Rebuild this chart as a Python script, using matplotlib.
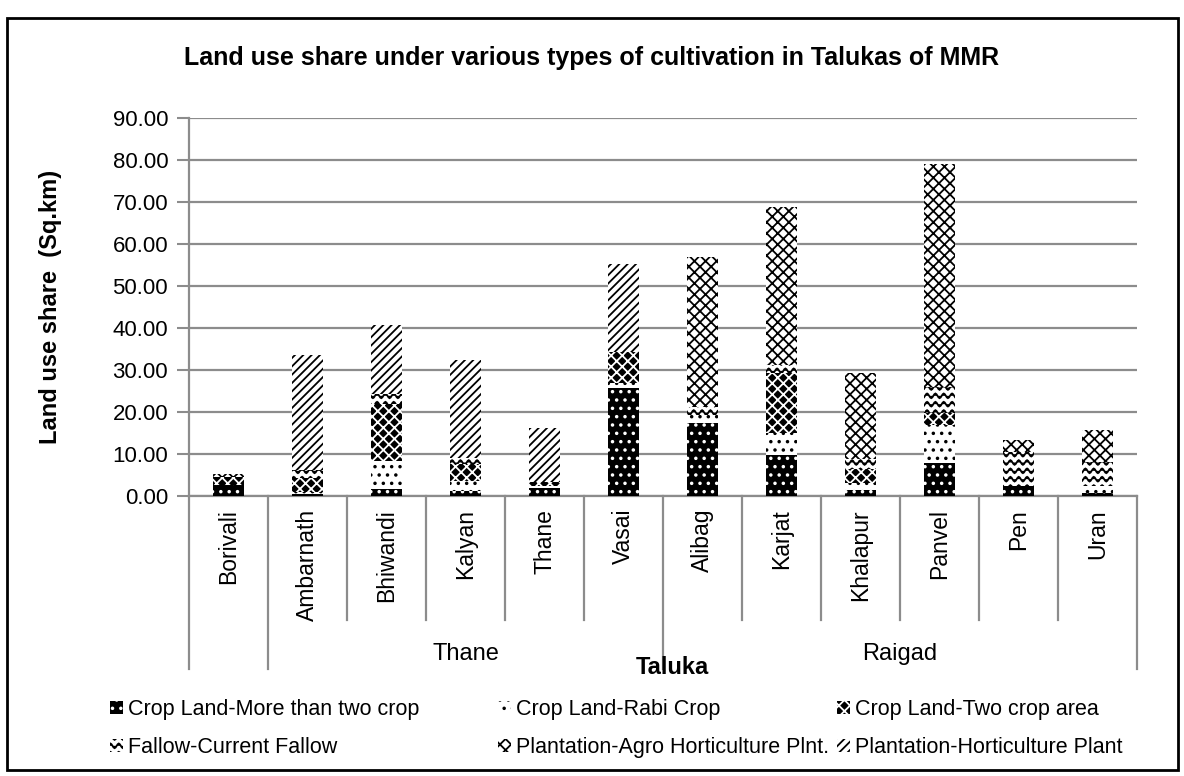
import matplotlib
matplotlib.use('Agg')
import warnings
import numpy as np
from matplotlib import pyplot as plt, font_manager
from matplotlib import hatch as mhatch
from matplotlib.path import Path
from matplotlib.patches import Rectangle, Patch
from matplotlib.transforms import blended_transform_factory

warnings.filterwarnings('ignore')

# 数据 (Sq.km)
talukas = ['Borivali', 'Ambarnath', 'Bhiwandi', 'Kalyan', 'Thane', 'Vasai',
           'Alibag', 'Karjat', 'Khalapur', 'Panvel', 'Pen', 'Uran']
districts = ['Thane', 'Raigad']
district_first = [1, 6]
district_last = [5, 11]

more_than_two = [2.5, 0.4, 1.7, 1.2, 2.0, 25.7, 17.4, 9.8, 1.5, 7.9, 2.4, 0.8]
rabi = [0.0, 0.6, 6.7, 2.3, 0.3, 1.2, 1.9, 5.2, 1.6, 9.0, 0.0, 1.6]
two_crop = [2.1, 3.3, 13.6, 4.0, 1.0, 7.4, 0.0, 14.3, 3.4, 2.9, 0.0, 0.0]
fallow = [0.0, 2.0, 2.4, 1.5, 0.0, 0.0, 1.9, 1.9, 2.4, 6.2, 8.1, 5.7]
agro = [0.7, 0.0, 0.0, 0.0, 0.0, 0.0, 35.7, 37.6, 20.4, 53.0, 2.9, 7.6]
horti = [0.0, 27.3, 16.4, 23.4, 13.0, 20.9, 0.0, 0.0, 0.0, 0.0, 0.0, 0.0]

series = [more_than_two, rabi, two_crop, fallow, agro, horti]
labels = ['Crop Land-More than two crop', 'Crop Land-Rabi Crop', 'Crop Land-Two crop area',
          'Fallow-Current Fallow', 'Plantation-Agro Horticulture Plnt.', 'Plantation-Horticulture Plant']


# 波浪线填充 (Excel 的 wave 图案)
class WaveHatch(mhatch.HatchPatternBase):
    def __init__(self, hatch, density):
        self.num_lines = int(hatch.count('~') * density)
        self.pts = 8 * self.num_lines + 1
        self.num_vertices = self.num_lines * self.pts

    def set_vertices_and_codes(self, vertices, codes):
        t = np.linspace(0, 1, self.pts)
        for i in range(self.num_lines):
            sl = slice(i * self.pts, (i + 1) * self.pts)
            vertices[sl, 0] = t
            vertices[sl, 1] = (i + 0.5) / self.num_lines + \
                0.28 / self.num_lines * np.sin(2 * np.pi * t * self.num_lines)
            codes[sl] = Path.LINETO
            codes[i * self.pts] = Path.MOVETO


mhatch._hatch_types.append(WaveHatch)

# (face, hatch colour, hatch)
styles = [('black', 'white', '..'),
          ('white', 'black', '..'),
          ('black', 'white', 'xxx'),
          ('white', 'black', '~~'),
          ('white', 'black', 'xxx'),
          ('white', 'black', '////')]

names = {f.name for f in font_manager.fontManager.ttflist}
if 'Liberation Sans Narrow' in names:
    fam, fs = 'Liberation Sans Narrow', 18
else:
    fam, fs = 'Liberation Sans', 16
plt.rcParams['font.family'] = [fam, 'DejaVu Sans']
plt.rcParams['hatch.linewidth'] = 1.3

W, H = 1184, 776
fig = plt.figure(figsize=(W / 100, H / 100), dpi=100)
ax = fig.add_axes([189 / W, 1 - 496 / H, (1137 - 189) / W, (496 - 118) / H])

x = np.arange(len(talukas))
bottom = np.zeros(len(talukas))
handles = []
for vals, lab, (fc, hc, ht) in zip(series, labels, styles):
    ax.bar(x, vals, 0.39, bottom=bottom, color=fc, edgecolor=hc, hatch=ht, linewidth=0, zorder=3)
    bottom += np.array(vals)
    handles.append(Patch(facecolor=fc, edgecolor=hc, hatch=ht, linewidth=0, label=lab))

gray = '#8c8c8c'
ax.set_xlim(-0.5, len(talukas) - 0.5)
ax.set_ylim(0, 90)
ax.set_yticks(np.arange(0, 91, 10))
ax.set_yticklabels(['%.2f' % v for v in np.arange(0, 91, 10)], fontsize=fs)
ax.set_xticks([])
ax.yaxis.grid(True, color=gray, linewidth=1.6)
ax.set_axisbelow(True)
ax.tick_params(axis='y', direction='out', length=9, width=1.5, color=gray, pad=6)
for s in ['top', 'right']:
    ax.spines[s].set_visible(False)
for s in ['left', 'bottom']:
    ax.spines[s].set_color(gray)
    ax.spines[s].set_linewidth(1.6)

# 多级分类轴
tr = blended_transform_factory(ax.transData, fig.transFigure)
y0 = 1 - 496 / H
long_end = 1 - 669 / H
short_end = 1 - 620 / H
long_at = [-0.5, 0.5] + [d - 0.5 for d in district_first[1:]] + [len(talukas) - 0.5]
for b in np.arange(-0.5, len(talukas), 1.0):
    end = long_end if b in long_at else short_end
    ax.plot([b, b], [y0, end], color=gray, linewidth=1.6, transform=tr, clip_on=False)
for i, t in enumerate(talukas):
    ax.text(i, 1 - 509 / H, t, rotation=90, ha='center', va='top', fontsize=fs + 0.5, transform=tr)
for d, a, b in zip(districts, district_first, district_last):
    ax.text((a + b) / 2, 1 - 654 / H, d, ha='center', va='center', fontsize=fs + 1, transform=tr)

fig.text(672 / W, 1 - 667 / H, 'Taluka', ha='center', va='center', fontsize=fs + 1, fontweight='bold')
fig.text(51 / W, 1 - 307 / H, 'Land use share  (Sq.km)', rotation=90, ha='center', va='center',
         fontsize=fs + 1, fontweight='bold')
fig.text(0.5, 1 - 58 / H, 'Land use share under various types of cultivation in Talukas of MMR',
         ha='center', va='center', fontsize=fs + 2, fontweight='bold')

# 图例 (按行排列)
for col, xpos in enumerate([110, 498, 837]):
    leg = fig.legend(handles=[handles[col], handles[col + 3]], loc='upper left',
                     bbox_to_anchor=(xpos / W, 1 - 699 / H), frameon=False, fontsize=fs - 0.5,
                     borderpad=0, borderaxespad=0, handlelength=0.6, handleheight=0.6,
                     handletextpad=0.25, labelspacing=0.8)

fig.add_artist(Rectangle((7 / W, 1 - 770 / H), (1178 - 7) / W, (770 - 18) / H,
                         transform=fig.transFigure, fill=False, linewidth=2, edgecolor='black'))

fig.savefig('out.png', dpi=100)
